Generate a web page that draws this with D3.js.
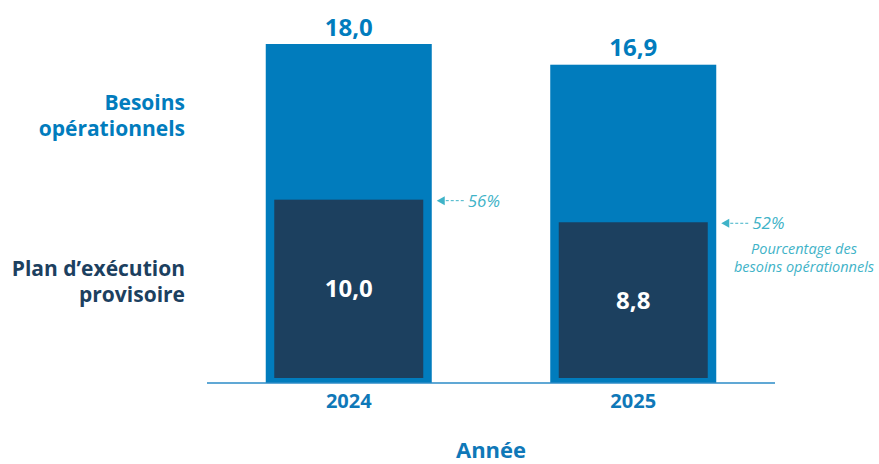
<!DOCTYPE html>
<html lang="fr">
<head>
<meta charset="utf-8">
<script src="https://cdn.jsdelivr.net/npm/d3@7"></script>
<style>
  html, body { margin: 0; padding: 0; background: #ffffff; }
  svg { display: block; font-family: "Open Sans", "Noto Sans", sans-serif; }
</style>
</head>
<body>
<svg id="chart" width="879" height="464"></svg>
<script>
// Années et montants
const years = ["2024", "2025"];
const besoins = [18.0, 16.9];          // Besoins opérationnels
const planExecution = [10.0, 8.8];     // Plan d'exécution provisoire
const pourcentages = ["56%", "52%"];   // part des besoins opérationnels

const seriesLabels = {
  besoins: ["Besoins", "opérationnels"],
  plan: ["Plan d’exécution", "provisoire"]
};
const noteLines = ["Pourcentage des", "besoins opérationnels"];
const axisTitle = "Année";

const fmt = v => d3.format(".1f")(v).replace(".", ",");

const colors = {
  outer: "#017cbd",
  inner: "#1c405f",
  axis: "#2b8bc7",
  year: "#0f78b8",
  note: "#3fb3c8"
};

const svg = d3.select("#chart");

const x = d3.scaleBand()
  .domain(years)
  .range([207, 775])
  .paddingInner(0.4165)
  .paddingOuter(0.2065);

const y = d3.scaleLinear()
  .domain([0, 18])
  .range([383, 44]);

const inset = { side: 8.5, top: 5, bottom: 5 };

const data = years.map((yr, i) => ({
  year: yr, besoins: besoins[i], plan: planExecution[i], pct: pourcentages[i]
}));

// Barres des besoins opérationnels
svg.append("g").selectAll("rect")
  .data(data)
  .join("rect")
  .attr("x", d => x(d.year))
  .attr("y", d => y(d.besoins))
  .attr("width", x.bandwidth())
  .attr("height", d => y(0) - y(d.besoins))
  .attr("fill", colors.outer);

// Barres du plan d'exécution, imbriquées
svg.append("g").selectAll("rect")
  .data(data)
  .join("rect")
  .attr("x", d => x(d.year) + inset.side)
  .attr("y", d => y(d.plan) + inset.top)
  .attr("width", x.bandwidth() - 2 * inset.side)
  .attr("height", d => y(0) - inset.bottom - (y(d.plan) + inset.top))
  .attr("fill", colors.inner);

// Ligne de base
svg.append("line")
  .attr("x1", x.range()[0]).attr("x2", x.range()[1])
  .attr("y1", y(0)).attr("y2", y(0))
  .attr("stroke", colors.axis)
  .attr("stroke-width", 1.6);

// Valeurs au-dessus des barres
svg.append("g").selectAll("text")
  .data(data)
  .join("text")
  .attr("x", d => x(d.year) + x.bandwidth() / 2)
  .attr("y", d => y(d.besoins) - 8.5)
  .attr("text-anchor", "middle")
  .attr("font-size", 24)
  .attr("font-weight", 700)
  .attr("fill", colors.outer)
  .text(d => fmt(d.besoins));

// Valeurs dans les barres intérieures
svg.append("g").selectAll("text")
  .data(data)
  .join("text")
  .attr("x", d => x(d.year) + x.bandwidth() / 2)
  .attr("y", d => ((y(d.plan) + inset.top) + (y(0) - inset.bottom)) / 2)
  .attr("dy", "0.36em")
  .attr("text-anchor", "middle")
  .attr("font-size", 24)
  .attr("font-weight", 700)
  .attr("fill", "#ffffff")
  .text(d => fmt(d.plan));

// Étiquettes des années
const xAxis = d3.axisBottom(x).tickSize(0).tickPadding(0);
const gx = svg.append("g")
  .attr("transform", `translate(0,${y(0)})`)
  .call(xAxis);
gx.select(".domain").remove();
gx.selectAll("text")
  .attr("y", 24.7)
  .attr("dy", 0)
  .attr("font-family", "\"Open Sans\", sans-serif")
  .attr("font-size", 20)
  .attr("font-weight", 700)
  .attr("fill", colors.year);

// Titre de l'axe
svg.append("text")
  .attr("x", 491)
  .attr("y", 458)
  .attr("text-anchor", "middle")
  .attr("font-size", 22)
  .attr("font-weight", 700)
  .attr("fill", colors.year)
  .text(axisTitle);

// Libellés des séries à gauche
function multiline(lines, xPos, yPos, lh, color) {
  const t = svg.append("text")
    .attr("x", xPos).attr("y", yPos)
    .attr("text-anchor", "end")
    .attr("font-size", 21)
    .attr("font-weight", 700)
    .attr("fill", color);
  lines.forEach((l, i) => t.append("tspan").attr("x", xPos).attr("dy", i === 0 ? 0 : lh).text(l));
}
multiline(seriesLabels.besoins, 185, 110, 25.5, colors.outer);
multiline(seriesLabels.plan, 185, 276, 26, colors.inner);

// Flèches de pourcentage
const ann = svg.append("g").selectAll("g")
  .data(data)
  .join("g")
  .attr("transform", d => `translate(${x(d.year) + x.bandwidth() + 5},${y(d.plan) + inset.top + 1})`);

ann.append("path")
  .attr("d", "M0,0 L8,-4.5 L8,4.5 Z")
  .attr("fill", colors.note);
ann.append("line")
  .attr("x1", 9).attr("x2", 27)
  .attr("y1", 0).attr("y2", 0)
  .attr("stroke", colors.note)
  .attr("stroke-width", 1)
  .attr("stroke-dasharray", "3,2");
ann.append("text")
  .attr("x", 31)
  .attr("dy", "0.36em")
  .attr("font-size", 17)
  .attr("font-style", "italic")
  .attr("font-weight", 400)
  .attr("fill", colors.note)
  .text(d => d.pct);

// Note explicative
const note = svg.append("text")
  .attr("x", 804).attr("y", 254)
  .attr("text-anchor", "middle")
  .attr("font-size", 14.5)
  .attr("font-style", "italic")
  .attr("font-weight", 400)
  .attr("fill", colors.note);
noteLines.forEach((l, i) => note.append("tspan").attr("x", 804).attr("dy", i === 0 ? 0 : 17.7).text(l));
</script>
</body>
</html>
